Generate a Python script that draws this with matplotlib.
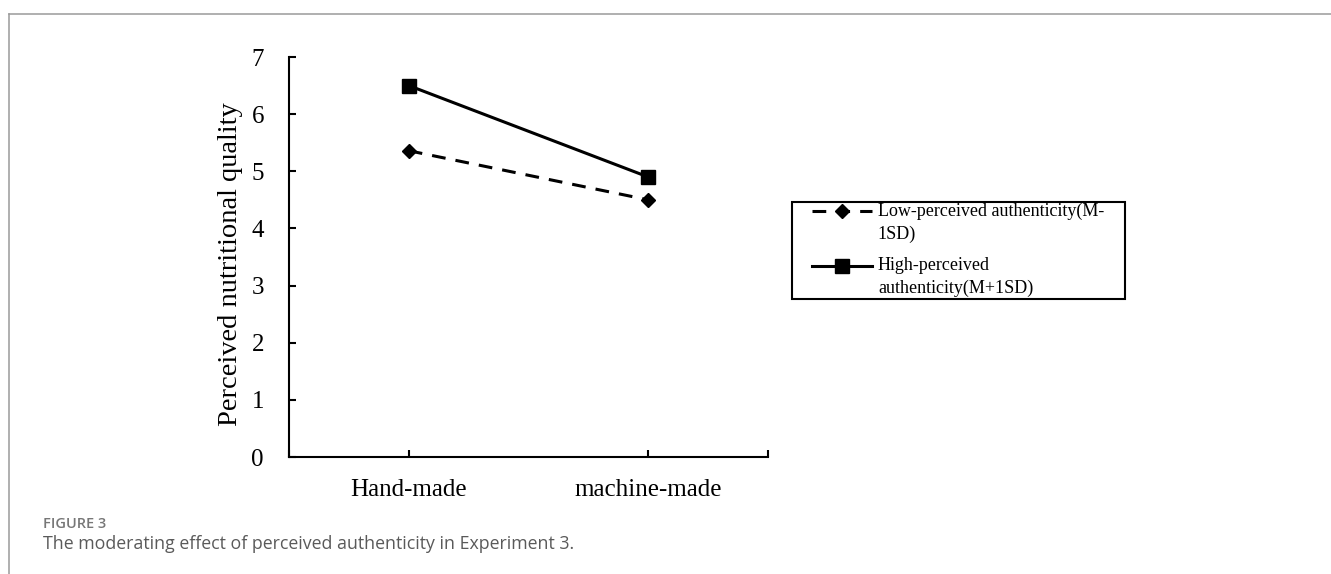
import matplotlib
matplotlib.use("Agg")
import matplotlib.pyplot as plt
from matplotlib.lines import Line2D
from matplotlib.patches import Rectangle
from matplotlib.legend_handler import HandlerLine2D

categories = ["Hand-made", "machine-made"]
low_auth = [5.36, 4.5]
high_auth = [6.5, 4.9]
low_label = "Low-perceived authenticity(M-\n1SD)"
high_label = "High-perceived\nauthenticity(M+1SD)"
y_ticks = [0, 1, 2, 3, 4, 5, 6, 7]

serif = ["Liberation Serif", "DejaVu Serif"]
W, H = 1331, 574


class FirstLineHandler(HandlerLine2D):
    # put the legend line next to the first text line, as in the original
    def __init__(self, shift=0, **kw):
        super().__init__(**kw)
        self.shift = shift

    def create_artists(self, legend, orig_handle, xdescent, ydescent,
                       width, height, fontsize, trans):
        return super().create_artists(legend, orig_handle, xdescent,
                                      ydescent - 2 * self.shift, width,
                                      height, fontsize, trans)


fig = plt.figure(figsize=(W / 100, H / 100), dpi=100)
ax = fig.add_axes([289 / W, 1 - 457 / H, 479 / W, 400 / H])

x = list(range(len(categories)))
l1, = ax.plot(x, low_auth, color="black", lw=2.2, dashes=(4.5, 3.3),
              marker="D", markersize=7, label=low_label)
l2, = ax.plot(x, high_auth, color="black", lw=2.2,
              marker="s", markersize=10, label=high_label)

ax.set_xlim(-0.5, 1.5)
ax.set_ylim(0, 7)
ax.set_xticks(x)
ax.set_xticklabels(categories, fontsize=18, family=serif)
ax.set_xticks([-0.5, 1.5], minor=True)
ax.set_yticks(y_ticks)
ax.set_yticklabels([str(v) for v in y_ticks], fontsize=18, family=serif)
ax.tick_params(axis="both", which="both", direction="in", length=5, width=1.5)
ax.tick_params(axis="x", pad=16)
ax.tick_params(axis="y", pad=18)

for s in ["top", "right"]:
    ax.spines[s].set_visible(False)
for s in ["left", "bottom"]:
    ax.spines[s].set_linewidth(1.5)

ax.set_ylabel("Perceived nutritional quality", fontsize=20.5, family=serif)
ax.yaxis.set_label_coords(-0.096, 0.481)

hm = {l1: FirstLineHandler(shift=8.4), l2: FirstLineHandler(shift=8.4)}
leg = ax.legend(loc="upper left", bbox_to_anchor=(812 / W, 1 - 203 / H),
                bbox_transform=fig.transFigure, borderaxespad=0, borderpad=0,
                prop={"family": serif, "size": 13}, frameon=False,
                handlelength=3.32, handletextpad=0.33, labelspacing=0.8,
                handler_map=hm)
for t in leg.get_texts():
    t.set_linespacing(1.4)

# legend box
fig.add_artist(Rectangle((792 / W, 1 - 299 / H), 333 / W, 97 / H,
                         transform=fig.transFigure, fill=False,
                         edgecolor="black", lw=1.5))

# page frame (top and left border)
fig.add_artist(Line2D([9 / W, 1], [1 - 14 / H] * 2, color="#9a9a9a", lw=1.1))
fig.add_artist(Line2D([9 / W] * 2, [0, 1 - 14 / H], color="#9a9a9a", lw=1.1))

fig.text(43 / W, 1 - 524.5 / H, "FIGURE 3", fontsize=10.5, color="#777777",
         family="Open Sans", weight="semibold", va="center")
fig.text(43 / W, 1 - 544 / H,
         "The moderating effect of perceived authenticity in Experiment 3.",
         fontsize=12.8, color="#5a5a5a", family="Open Sans", va="center")

fig.savefig("out.png", dpi=100)
